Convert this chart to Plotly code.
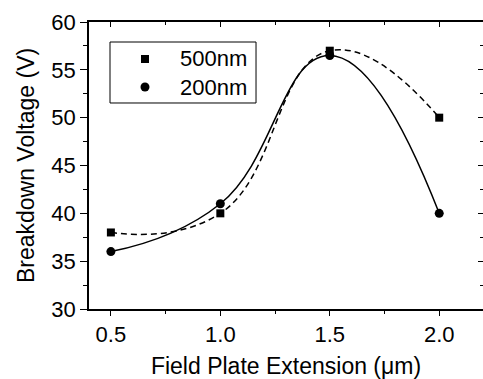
import plotly.graph_objects as go

x_vals = [0.5, 1.0, 1.5, 2.0]
v_500nm = [38, 40, 57, 50]
v_200nm = [36, 41, 56.5, 40]
series_names = ["500nm", "200nm"]
x_ticks = [0.5, 1.0, 1.5, 2.0]
x_ticklabels = ["0.5", "1.0", "1.5", "2.0"]
y_ticks = [30, 35, 40, 45, 50, 55, 60]

FONT = "Liberation Sans, Arial, sans-serif"
fig = go.Figure()

# curves
fig.add_trace(go.Scatter(x=x_vals, y=v_500nm, mode="lines", showlegend=False,
                         line=dict(color="black", width=1.5, dash="6px,4px", shape="spline", smoothing=1.3),
                         hoverinfo="skip"))
fig.add_trace(go.Scatter(x=x_vals, y=v_200nm, mode="lines", showlegend=False,
                         line=dict(color="black", width=1.5, shape="spline", smoothing=1.3),
                         hoverinfo="skip"))
# markers
fig.add_trace(go.Scatter(x=x_vals, y=v_500nm, mode="markers", name=series_names[0], showlegend=False,
                         marker=dict(symbol="square", size=8, color="black")))
fig.add_trace(go.Scatter(x=x_vals, y=v_200nm, mode="markers", name=series_names[1], showlegend=False,
                         marker=dict(symbol="circle", size=9, color="black")))
# mirror axes carrier
fig.add_trace(go.Scatter(x=x_vals, y=v_200nm, mode="markers", xaxis="x2", yaxis="y2",
                         showlegend=False, hoverinfo="skip", marker=dict(opacity=0)))

# legend box drawn as layout decoration
shapes = [
    dict(type="rect", xref="paper", yref="paper", x0=0.0533, x1=0.4239, y0=0.7178, y1=0.9303,
         line=dict(color="black", width=1), fillcolor="white", layer="above"),
    dict(type="rect", xref="paper", yref="paper", xsizemode="pixel", ysizemode="pixel",
         xanchor=0.1421, yanchor=0.8711, x0=-4, x1=4, y0=-4, y1=4,
         line=dict(width=0), fillcolor="black", layer="above"),
    dict(type="circle", xref="paper", yref="paper", xsizemode="pixel", ysizemode="pixel",
         xanchor=0.1421, yanchor=0.7735, x0=-4.5, x1=4.5, y0=-4.5, y1=4.5,
         line=dict(width=0), fillcolor="black", layer="above"),
]
annotations = [
    dict(text=series_names[0], xref="paper", yref="paper", x=0.2259, y=0.8711,
         xanchor="left", yanchor="middle", showarrow=False, font=dict(size=22)),
    dict(text=series_names[1], xref="paper", yref="paper", x=0.2259, y=0.7735,
         xanchor="left", yanchor="middle", showarrow=False, font=dict(size=22)),
]

fig.update_layout(
    width=483, height=379,
    margin=dict(l=89, r=0, t=22, b=70, autoexpand=False),
    paper_bgcolor="white", plot_bgcolor="white",
    font=dict(family=FONT, size=22, color="black"),
    showlegend=False,
    shapes=shapes, annotations=annotations,
    xaxis=dict(range=[0.4, 2.2], tickvals=x_ticks, ticktext=x_ticklabels,
               ticks="outside", ticklen=5, tickwidth=1.2, tickcolor="black",
               minor=dict(dtick=0.25, tick0=0.25, ticks="outside", ticklen=3, tickwidth=1.2, tickcolor="black"),
               showline=True, linecolor="black", linewidth=1.5, showgrid=False, zeroline=False,
               tickfont=dict(size=22), automargin=False,
               title=dict(text="Field Plate Extension (\u03bcm)", font=dict(size=23), standoff=14)),
    yaxis=dict(range=[30, 60], tickvals=y_ticks,
               ticks="outside", ticklen=7, tickwidth=1.2, tickcolor="black",
               minor=dict(dtick=2.5, tick0=30, ticks="outside", ticklen=4, tickwidth=1.2, tickcolor="black"),
               showline=True, linecolor="black", linewidth=1.5, showgrid=False, zeroline=False,
               tickfont=dict(size=22), automargin=False,
               title=dict(text="Breakdown Voltage (V)", font=dict(size=23), standoff=10)),
    xaxis2=dict(range=[0.4, 2.2], overlaying="x", side="top", tickvals=x_ticks,
                showticklabels=False, ticks="inside", ticklen=5, tickwidth=1.2, tickcolor="black",
                minor=dict(dtick=0.25, tick0=0.25, ticks="inside", ticklen=3, tickwidth=1.2, tickcolor="black"),
                showline=True, linecolor="black", linewidth=1.5, showgrid=False, zeroline=False),
    yaxis2=dict(range=[30, 60], overlaying="y", side="right", tickvals=y_ticks,
                showticklabels=False, ticks="inside", ticklen=5, tickwidth=1.2, tickcolor="black",
                minor=dict(dtick=2.5, tick0=30, ticks="inside", ticklen=3, tickwidth=1.2, tickcolor="black"),
                showline=True, linecolor="black", linewidth=1.5, showgrid=False, zeroline=False),
)

fig.write_html("out.html", config={"displayModeBar": False},
               post_script="document.body.style.margin='0px';")
